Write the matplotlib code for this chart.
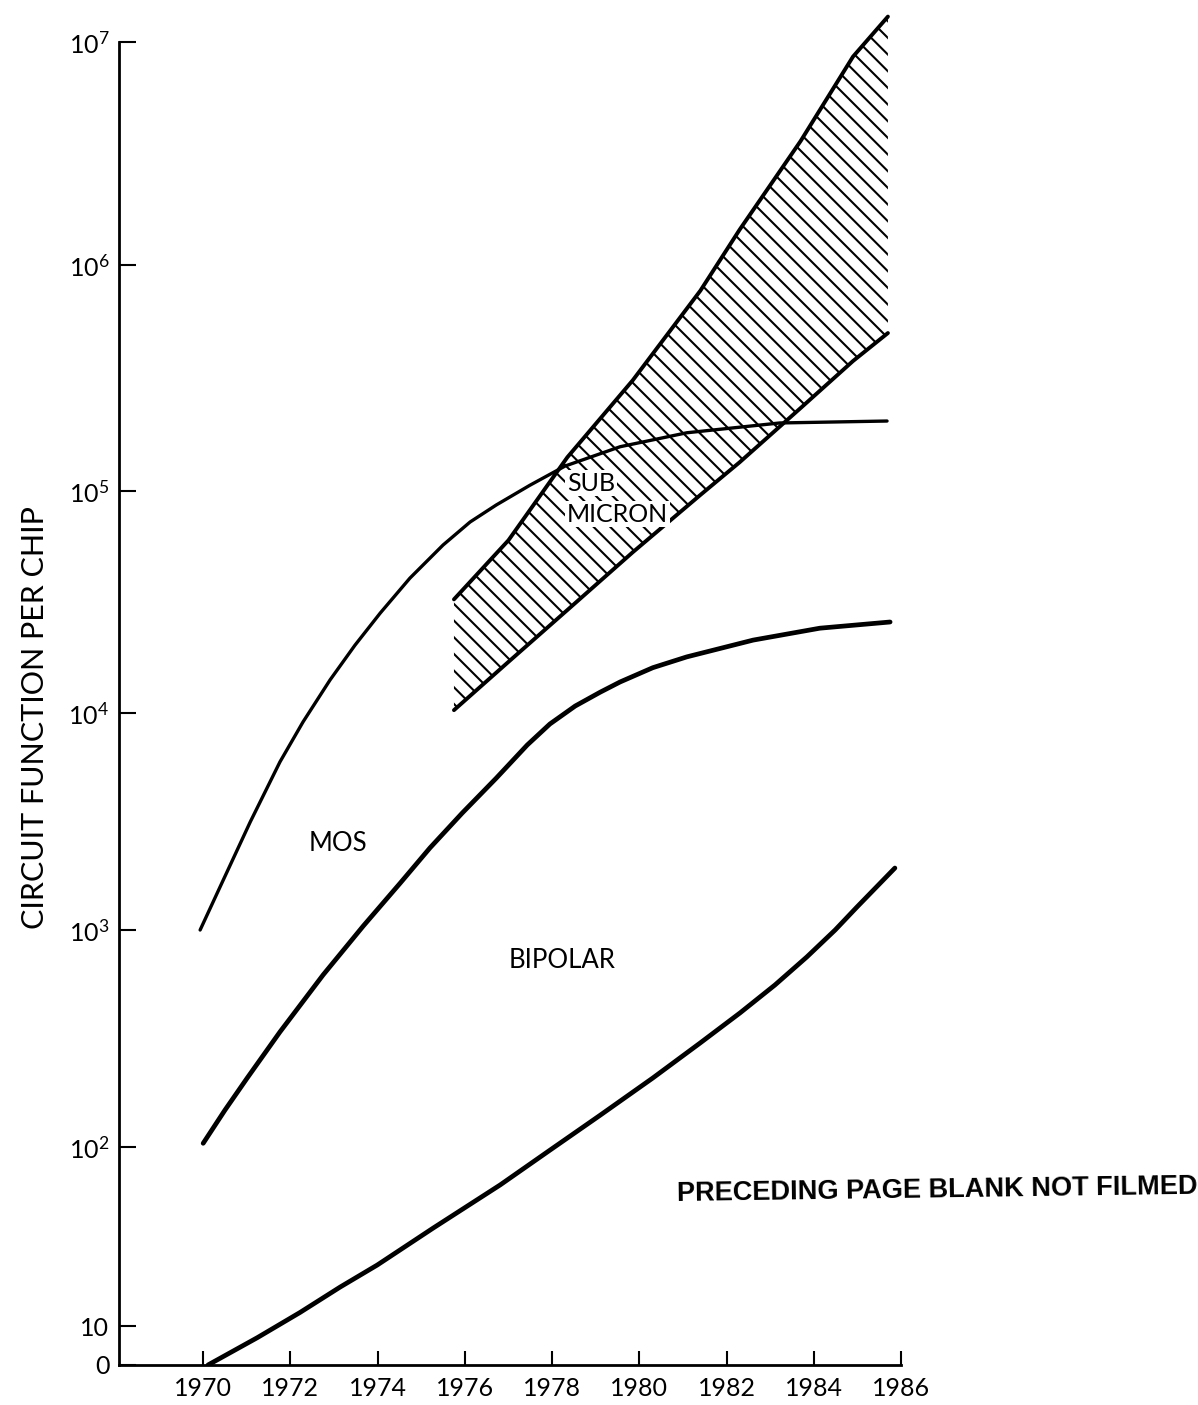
import numpy as np
import matplotlib
matplotlib.use("Agg")
import matplotlib.pyplot as plt
from matplotlib.ticker import NullLocator

plt.rcParams['font.family'] = ['Lato', 'DejaVu Sans']
plt.rcParams['mathtext.default'] = 'regular'
plt.rcParams['hatch.linewidth'] = 1.5

# ---- data ----
mos_years = [1969.93, 1970.44, 1971.08, 1971.76, 1972.29, 1972.91, 1973.48, 1974.06,
             1974.74, 1975.5, 1976.12, 1976.72, 1977.49, 1978.3, 1979.56, 1981.09,
             1983.22, 1985.68]
mos_vals = [1000, 1665, 3150, 5950, 9100, 14100, 20200, 28200,
            40500, 57100, 72500, 86500, 106000, 129000, 157000, 181000,
            200000, 204000]

mid_years = [1970.0, 1970.5, 1971.01, 1971.76, 1972.75, 1973.67, 1974.52, 1975.2,
             1975.94, 1976.72, 1977.43, 1977.95, 1978.53, 1979.1, 1979.56, 1980.31,
             1981.09, 1982.61, 1984.14, 1985.75]
mid_vals = [104, 148, 208, 339, 621, 1043, 1647, 2390,
            3460, 5010, 7120, 8900, 10750, 12400, 13800, 16000,
            17900, 21300, 24100, 25700]

low_years = [1970.11, 1971.24, 1972.22, 1973.14, 1973.99, 1975.27, 1976.81, 1977.95,
             1979.1, 1980.31, 1981.39, 1982.31, 1983.11, 1983.84, 1984.49, 1984.99,
             1985.86]
low_vals = [0, 7.0, 11.9, 16.5, 21.9, 35.2, 61.4, 96,
            140, 208, 301, 415, 558, 751, 1000, 1276,
            1930]

# sub-micron band
band_years = [1975.75, 1977.0, 1978.35, 1979.85, 1981.4, 1982.3, 1983.7, 1984.9, 1985.7]
band_hi = [32500, 60000, 141000, 309000, 7.7e5, 1.44e6, 3.6e6, 8.6e6, 1.3e7]
band_lo = [10300, 17000, 29100, 53000, 96000, 134000, 233000, 376000, 500000]

x_ticks = [1970, 1972, 1974, 1976, 1978, 1980, 1982, 1984, 1986]
y_ticks = [0, 10, 1e2, 1e3, 1e4, 1e5, 1e6, 1e7]
y_labels = ['0', '10', '$10^2$', '$10^3$', '$10^4$', '$10^5$', '$10^6$', '$10^7$']

# the printed axis is hand drawn: decades are not evenly spaced,
# and 0..10 is a short linear stub
DEC = np.array([1., 2, 3, 4, 5, 6, 7, 8])
DEC_POS = np.array([39., 218, 435, 652, 874, 1100, 1323, 1546])


def fwd(v):
    v = np.asarray(v, dtype=float)
    lg = np.log10(np.clip(v, 10, None))
    hi = np.interp(lg, DEC, DEC_POS)
    lo = np.clip(v, 0, 10) / 10. * DEC_POS[0]
    return np.where(v >= 10, hi, lo)


def inv(p):
    p = np.asarray(p, dtype=float)
    hi = 10 ** np.interp(p, DEC_POS, DEC)
    lo = p / DEC_POS[0] * 10.
    return np.where(p >= DEC_POS[0], hi, lo)


fig = plt.figure(figsize=(11.98, 14.05), dpi=100)
ax = fig.add_axes([119/1198, 40/1405, 782/1198, 1323/1405])
ax.set_yscale('function', functions=(fwd, inv))

ax.fill_between(band_years, band_lo, band_hi, facecolor='none', edgecolor='black',
                hatch='\\\\', linewidth=0, clip_on=False)
ax.plot(band_years, band_hi, color='black', lw=2.8, solid_capstyle='round', clip_on=False)
ax.plot(band_years, band_lo, color='black', lw=2.8, solid_capstyle='round')

ax.plot(mos_years, mos_vals, color='black', lw=2.4, solid_capstyle='round')
ax.plot(mid_years, mid_vals, color='black', lw=3.4, solid_capstyle='round')
ax.plot(low_years, low_vals, color='black', lw=3.4, solid_capstyle='round')

ax.set_xlim(1968.07, 1986.0)
ax.set_ylim(0, 1e7)
ax.set_xticks(x_ticks)
ax.set_xticklabels([str(t) for t in x_ticks])
ax.set_yticks(y_ticks)
ax.set_yticklabels(y_labels)
ax.yaxis.set_minor_locator(NullLocator())
ax.xaxis.set_minor_locator(NullLocator())

for s in ['top', 'right']:
    ax.spines[s].set_visible(False)
for s in ['left', 'bottom']:
    ax.spines[s].set_linewidth(2)

ax.tick_params(axis='y', direction='in', length=12, width=1.5, labelsize=18, pad=7)
ax.tick_params(axis='x', direction='in', length=10, width=1.5, labelsize=18, pad=9)

ax.text(1973.1, 2500, 'MOS', fontsize=18.5, ha='center', va='center')
ax.text(1978.23, 720, 'BIPOLAR', fontsize=18.5, ha='center', va='center')
ax.text(1978.34, 108000, 'SUB', fontsize=18, ha='left', va='center',
        bbox=dict(facecolor='white', edgecolor='none', pad=1))
ax.text(1978.34, 78700, 'MICRON', fontsize=18, ha='left', va='center',
        bbox=dict(facecolor='white', edgecolor='none', pad=1))

fig.text(35/1198, 1 - 718/1405, 'CIRCUIT FUNCTION PER CHIP', rotation=90,
         fontsize=22, ha='center', va='center')
fig.text(677/1198, 1 - 1190/1405, 'PRECEDING PAGE BLANK NOT FILMED',
         fontsize=19.5, fontweight='bold', family='Liberation Sans',
         ha='left', va='center', rotation=0.8)

fig.savefig('out.png', dpi=100)
